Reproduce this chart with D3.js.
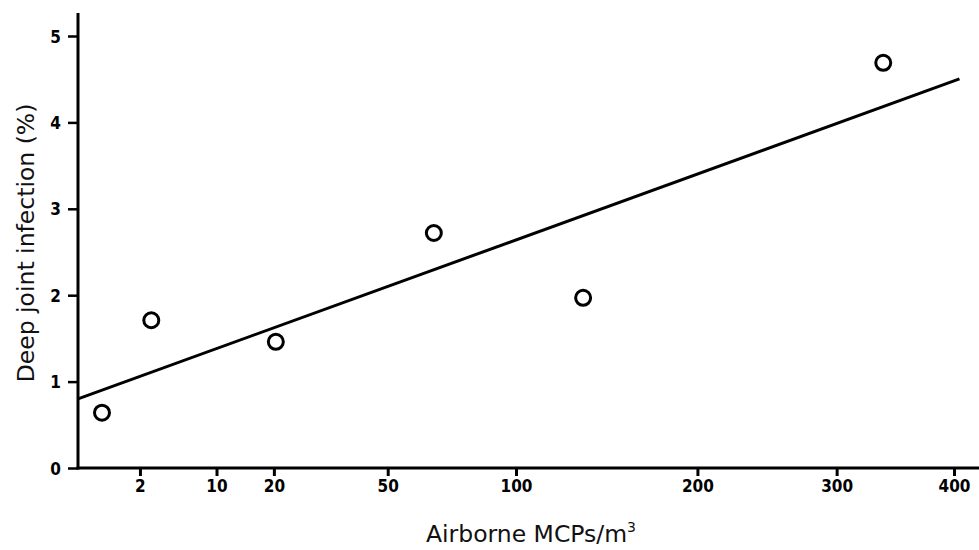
<!DOCTYPE html>
<html>
<head>
<meta charset="utf-8">
<script src="https://cdn.jsdelivr.net/npm/d3@7"></script>
<style>
  body { margin: 0; background: #fff; }
  .tick text { font-family: "DejaVu Sans Condensed", "Liberation Sans Narrow", sans-serif; font-weight: bold; font-size: 17px; fill: #000; }
  .lbl { font-family: "DejaVu Sans", Verdana, sans-serif; font-size: 23.5px; fill: #111; }
</style>
</head>
<body>
<div id="chart"></div>
<script>
// airborne MCPs per m3 vs deep joint infection rate
var airborne = [0.3, 2.8, 20.4, 66, 133, 338];
var infection = [0.64, 1.71, 1.46, 2.72, 1.97, 4.69];
var xTicks = [2, 10, 20, 50, 100, 200, 300, 400];
var yTicks = [0, 1, 2, 3, 4, 5];
// fitted line: infection = a + b * sqrt(airborne)
var fitX = [0, 405];
var fitA = 0.80, fitB = 0.184;

var width = 979, height = 550;
var svg = d3.select("#chart").append("svg")
  .attr("width", width)
  .attr("height", height);

var x = d3.scaleSqrt().domain([0, 400]).range([78, 954]);
var y = d3.scaleLinear().domain([0, 5]).range([468, 36]);

var xAxis = svg.append("g")
  .attr("transform", "translate(0," + y(0) + ")")
  .call(d3.axisBottom(x).tickValues(xTicks).tickFormat(d3.format("d")).tickSize(8).tickSizeOuter(0).tickPadding(4));
xAxis.select(".domain").remove();
xAxis.selectAll(".tick line").attr("stroke-width", 3).attr("stroke", "#000");

var yAxis = svg.append("g")
  .attr("transform", "translate(" + x(0) + ",0)")
  .call(d3.axisLeft(y).tickValues(yTicks).tickFormat(d3.format("d")).tickSize(10).tickSizeOuter(0).tickPadding(7));
yAxis.select(".domain").remove();
yAxis.selectAll(".tick line").attr("stroke-width", 2.5).attr("stroke", "#000");
yAxis.selectAll(".tick text").attr("dy", "0.36em");

// axis lines
svg.append("line")
  .attr("x1", x(0)).attr("x2", x(0))
  .attr("y1", 13).attr("y2", y(0) + 1.5)
  .attr("stroke", "#000").attr("stroke-width", 3);
svg.append("line")
  .attr("x1", x(0) - 1.5).attr("x2", width)
  .attr("y1", y(0)).attr("y2", y(0))
  .attr("stroke", "#000").attr("stroke-width", 3);

// regression line
svg.append("line")
  .attr("x1", x(fitX[0])).attr("y1", y(fitA + fitB * Math.sqrt(fitX[0])))
  .attr("x2", x(fitX[1])).attr("y2", y(fitA + fitB * Math.sqrt(fitX[1])))
  .attr("stroke", "#000").attr("stroke-width", 3);

// data points
svg.selectAll("circle.pt")
  .data(airborne)
  .enter()
  .append("circle")
  .attr("class", "pt")
  .attr("cx", function (d) { return x(d); })
  .attr("cy", function (d, i) { return y(infection[i]); })
  .attr("r", 7.5)
  .attr("fill", "#fff")
  .attr("stroke", "#000")
  .attr("stroke-width", 3);

// labels
var xl = svg.append("text")
  .attr("class", "lbl")
  .attr("x", 531).attr("y", 542)
  .attr("text-anchor", "middle");
xl.append("tspan").text("Airborne MCPs/m");
xl.append("tspan").attr("font-size", "14px").attr("dy", "-0.75em").text("3");

svg.append("text")
  .attr("class", "lbl")
  .attr("transform", "translate(34,243) rotate(-90)")
  .attr("text-anchor", "middle")
  .text("Deep joint infection (%)");
</script>
</body>
</html>
